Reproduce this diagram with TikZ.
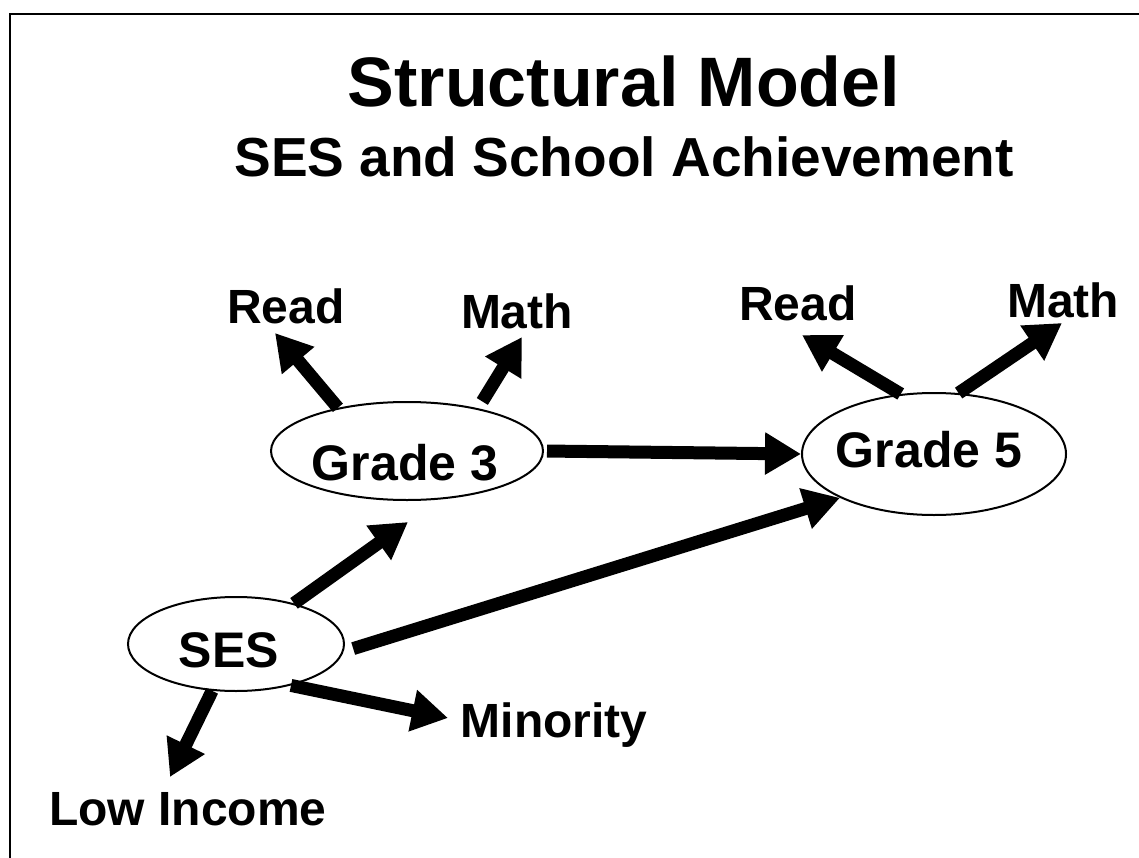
\documentclass[tikz,border=0pt]{standalone}
\usepackage{fontspec}
\setmainfont{Liberation Sans}
\usetikzlibrary{arrows.meta,shapes.geometric}
\begin{document}
\begin{tikzpicture}[x=1pt,y=-1pt,
  lbl/.style={font=\fontsize{48}{56}\selectfont\bfseries, inner sep=0pt, anchor=base},
  ovtext/.style={font=\fontsize{50}{58}\selectfont\bfseries, inner sep=0pt, anchor=base},
  oval/.style={ellipse, draw, line width=2pt, inner sep=0pt},
  arr/.style={line width=13pt, -{Triangle[length=36pt,width=40pt]}}]
\fill[white] (0,0) rectangle (1139,858);
\useasboundingbox (0,0) rectangle (1139,858);
% frame
\draw[line width=2.5pt] (10,858) -- (10,14) -- (1139,14);
% titles
\node[font=\fontsize{70}{80}\selectfont\bfseries, inner sep=0pt, anchor=base] (title) at (624,107) {Structural Model};
\node[font=\fontsize{55}{64}\selectfont\bfseries, inner sep=0pt, anchor=base] (subtitle) at (624,177) {SES and School Achievement};
% ellipses
\node[oval, minimum width=272pt, minimum height=98pt] (g3) at (407,451) {};
\node[oval, minimum width=264pt, minimum height=122pt] (g5) at (934,454) {};
\node[oval, minimum width=216pt, minimum height=94pt] (ses) at (236,644) {};
\node[ovtext] (g3t) at (405,480) {Grade 3};
\node[ovtext] (g5t) at (929,467) {Grade 5};
\node[ovtext] (sest) at (229,667) {SES};
% labels
\node[lbl] (readA) at (286,323) {Read};
\node[lbl] (mathA) at (517,328) {Math};
\node[lbl] (readB) at (798,320) {Read};
\node[lbl] (mathB) at (1063,317) {Math};
\node[lbl] (mino) at (554,737) {Minority};
\node[lbl] (low) at (188,825) {Low Income};
% arrow tips
\coordinate (tRa) at (275,333);
\coordinate (tMa) at (522,337);
\coordinate (tRb) at (802,335);
\coordinate (tMb) at (1062,323);
\coordinate (tG3) at (408,522);
\coordinate (tMin) at (448,718);
\coordinate (tLow) at (170,777);
% arrows
\draw[arr] (g3.148) -- (tRa);
\draw[arr, shorten <=8pt] (g3.31) -- (tMa);
\draw[arr, shorten <=3pt] (g3.east) -- (g5.west);
\draw[arr] (g5.119) -- (tRb);
\draw[arr] (g5.68) -- (tMb);
\draw[arr] (ses.35) -- (tG3);
\draw[arr, shorten <=10pt] (ses.-4) -- (g5.-155);
\draw[arr] (ses.-37) -- (tMin);
\draw[arr] (ses.-117) -- (tLow);
\end{tikzpicture}
\end{document}
